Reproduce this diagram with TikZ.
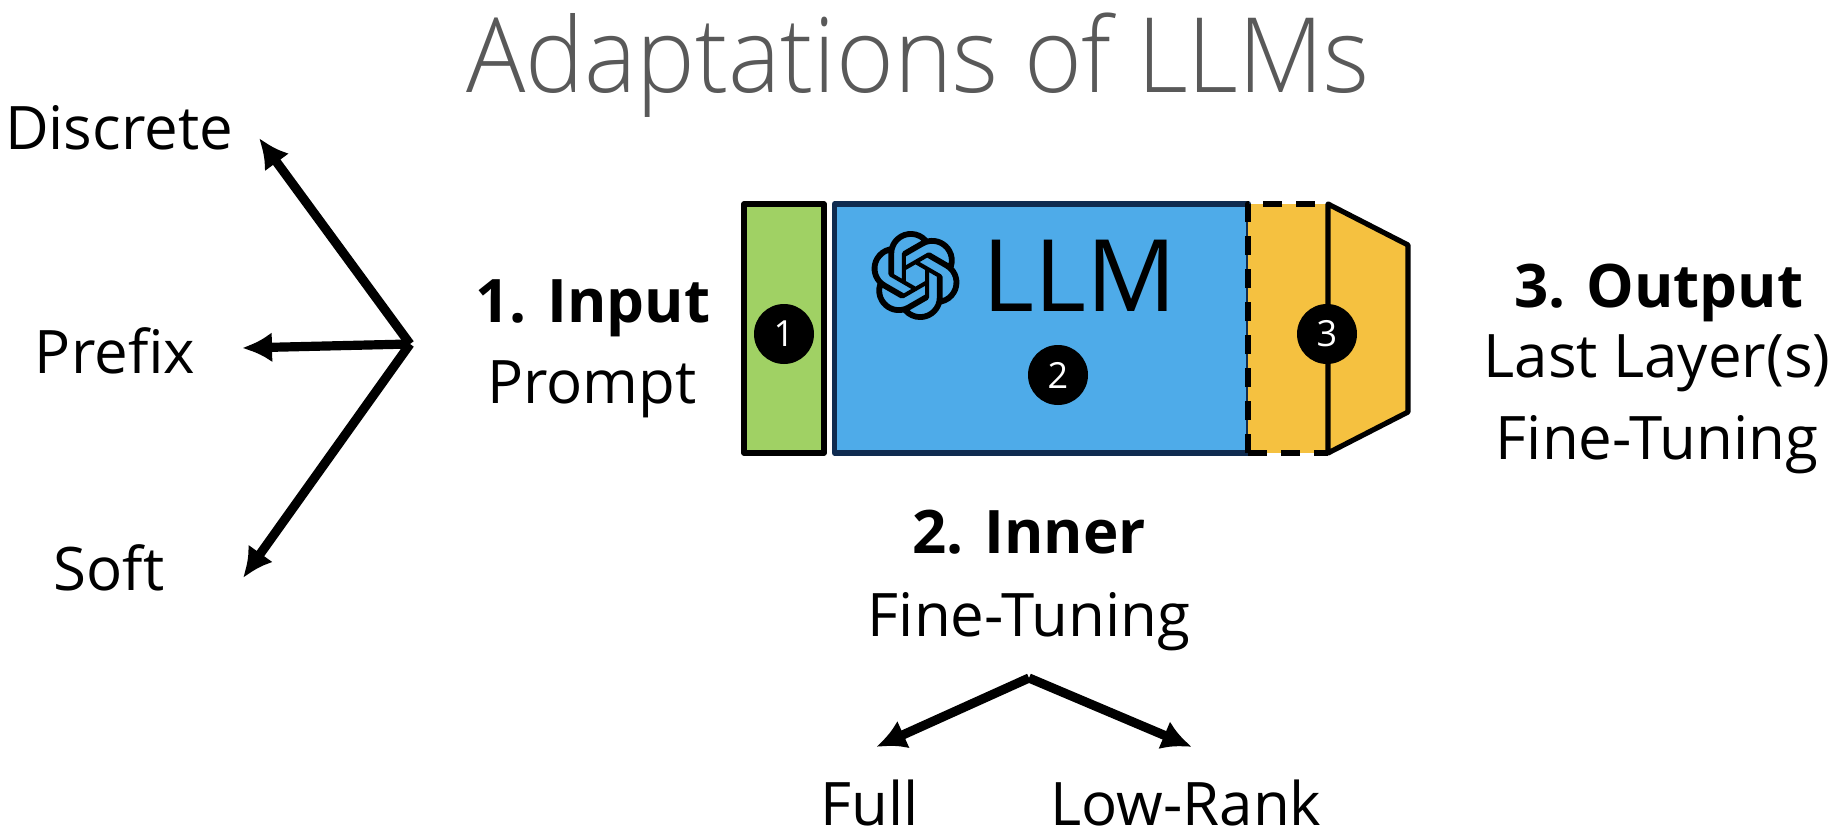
\documentclass[tikz,border=0pt]{standalone}
\usepackage{fontspec}
\setmainfont{Open Sans}
\newfontfamily\titlefont[FakeStretch=0.95]{Open Sans Light}
\usetikzlibrary{arrows.meta,svg.path}
\definecolor{inputgreen}{HTML}{A0D164}
\definecolor{innerblue}{HTML}{4EABE9}
\definecolor{outeryellow}{HTML}{F5C140}
\definecolor{innernavy}{HTML}{0F2B50}
\definecolor{titlegray}{HTML}{595959}
\tikzset{
  lbl/.style={inner sep=0pt, anchor=base, font=\fontsize{30}{36}\selectfont},
  boldlbl/.style={lbl, font=\fontsize{30}{36}\selectfont\bfseries},
  box/.style={draw=black, line width=2.6pt, inner sep=0pt, outer sep=0pt,
    minimum height=124.5pt, line join=round},
  badge/.style={circle, fill=black, text=white, inner sep=0pt, minimum size=30pt,
    font=\fontsize{18}{20}\selectfont},
  branch/.style={line width=4.6pt, -{Latex[length=15pt,width=15pt]}},
}
\begin{document}
\begin{tikzpicture}[x=0.5pt,y=-0.5pt]
  \useasboundingbox (0,0) rectangle (1838,840);
  \node[lbl, text=titlegray, font=\fontsize{52}{60}\selectfont\titlefont] (title) at (918,93) {Adaptations of LLMs};
  % model
  \node[box, fill=inputgreen, minimum width=40pt] (inputbox) at (784,328.5) {};
  \node[box, draw=innernavy, fill=innerblue, minimum width=207pt] (innerbox) at (1041.5,328.5) {};
  \node[box, draw=none, fill=outeryellow, minimum width=40pt] (lastbox) at (1288,328.5) {};
  \draw[line width=2.6pt, dash pattern=on 9.5pt off 7pt, line join=round]
    (lastbox.south west) -- (lastbox.north west) -- (lastbox.north east);
  \draw[line width=2.6pt, dash pattern=on 9.5pt off 7pt]
    (lastbox.south west) -- (lastbox.south east);
  \draw[line width=2.6pt, fill=outeryellow, line join=round]
    (lastbox.north east) -- (1408,245) -- (1408,412) -- (lastbox.south east) -- cycle;
  \node[badge] (one) at (784,334) {1};
  \node[badge] (two) at (1058,375) {2};
  \node[badge] (three) at (1327,334) {3};
  \node[lbl, font=\fontsize{50}{60}\selectfont] (llm) at (1080,311) {LLM};
  \begin{scope}[shift={(871,231)},scale=1.854,yscale=-1]
    \fill[black, even odd rule] svg {M22.2819 9.8211a5.9847 5.9847 0 0 0-.5157-4.9108 6.0462 6.0462 0 0 0-6.5098-2.9A6.0651 6.0651 0 0 0 4.9807 4.1818a5.9847 5.9847 0 0 0-3.9977 2.9 6.0462 6.0462 0 0 0 .7427 7.0966 5.98 5.98 0 0 0 .511 4.9107 6.051 6.051 0 0 0 6.5146 2.9001A5.9847 5.9847 0 0 0 13.2599 24a6.0557 6.0557 0 0 0 5.7718-4.2058 5.9894 5.9894 0 0 0 3.9977-2.9001 6.0557 6.0557 0 0 0-.7475-7.0729zm-9.022 12.6081a4.4755 4.4755 0 0 1-2.8764-1.0408l.1419-.0804 4.7783-2.7582a.7948.7948 0 0 0 .3927-.6813v-6.7369l2.02 1.1686a.071.071 0 0 1 .038.052v5.5826a4.504 4.504 0 0 1-4.4945 4.4944zm-9.6607-4.1254a4.4708 4.4708 0 0 1-.5346-3.0137l.142.0852 4.783 2.7582a.7712.7712 0 0 0 .7806 0l5.8428-3.3685v2.3324a.0804.0804 0 0 1-.0332.0615L9.74 19.9502a4.4992 4.4992 0 0 1-6.1408-1.6464zM2.3408 7.8956a4.485 4.485 0 0 1 2.3655-1.9728V11.6a.7664.7664 0 0 0 .3879.6765l5.8144 3.3543-2.0201 1.1685a.0757.0757 0 0 1-.071 0l-4.8303-2.7865A4.504 4.504 0 0 1 2.3408 7.872zm16.5963 3.8558L13.1038 8.364 15.1192 7.2a.0757.0757 0 0 1 .071 0l4.8303 2.7913a4.4944 4.4944 0 0 1-.6765 8.1042v-5.6772a.79.79 0 0 0-.407-.667zm2.0107-3.0231l-.142-.0852-4.7735-2.7818a.7759.7759 0 0 0-.7854 0L9.409 9.2297V6.8974a.0662.0662 0 0 1 .0284-.0615l4.8303-2.7866a4.4992 4.4992 0 0 1 6.6802 4.66zM8.3065 12.863l-2.02-1.1638a.0804.0804 0 0 1-.038-.0567V6.0742a4.4992 4.4992 0 0 1 7.3757-3.4537l-.142.0805L8.704 5.459a.7948.7948 0 0 0-.3927.6813zM9.4041 10.4976l2.602-1.4998 2.6069 1.4998v2.9994l-2.5974 1.4997-2.6067-1.4997Z};
  \end{scope}
  % labels
  \node[lbl] (discrete) at (119,150) {Discrete};
  \node[lbl] (prefix) at (115,373) {Prefix};
  \node[lbl] (soft) at (109,590) {Soft};
  \node[boldlbl] (inputhead) at (593,322) {1. Input};
  \node[lbl] (prompt) at (592,403) {Prompt};
  \node[boldlbl] (innerhead) at (1029,553) {2. Inner};
  \node[lbl] (innertune) at (1029,636) {Fine-Tuning};
  \node[boldlbl] (outputhead) at (1659,307) {3. Output};
  \node[lbl] (lastlayer) at (1657,377) {Last Layer(s)};
  \node[lbl] (outputtune) at (1657,459) {Fine-Tuning};
  \node[lbl] (full) at (870,825) {Full};
  \node[lbl] (lowrank) at (1186,825) {Low-Rank};
  % arrows
  \coordinate (inputhub) at (410,344);
  \coordinate (discretetip) at (259,138);
  \coordinate (prefixtip) at (242,348);
  \coordinate (softtip) at (243,578);
  \coordinate (innerhub) at (1029,678);
  \coordinate (fulltip) at (876,747);
  \coordinate (lowranktip) at (1192,747);
  \draw[branch] (inputhub) -- (discretetip);
  \draw[branch] (inputhub) -- (prefixtip);
  \draw[branch] (inputhub) -- (softtip);
  \draw[branch] (innerhub) -- (fulltip);
  \draw[branch] (innerhub) -- (lowranktip);
\end{tikzpicture}
\end{document}
